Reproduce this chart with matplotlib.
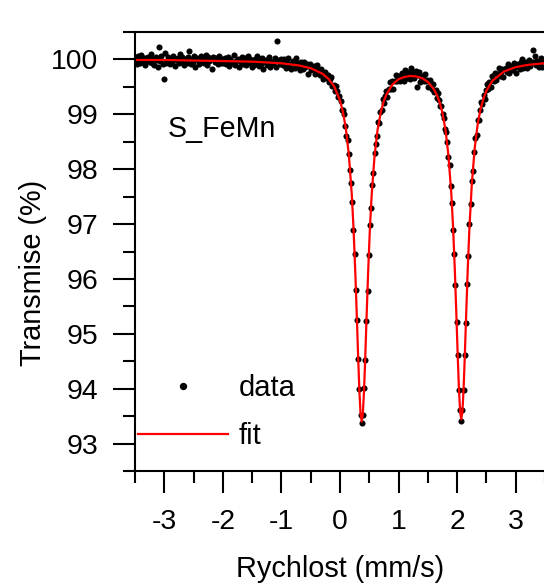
import numpy as np
import matplotlib
matplotlib.use('Agg')
from matplotlib import pyplot as plt

plt.rcParams['font.family'] = ['Liberation Sans', 'DejaVu Sans']
plt.rcParams['axes.unicode_minus'] = False

# namerena transmise (%) po kanalech
transmise = np.array([
    100.01, 99.92, 100.06, 99.99, 99.94, 100.08, 99.96, 100.03, 99.89, 100.02,
    99.98, 100.05, 99.95, 100.10, 99.93, 100.00, 99.90, 100.04, 99.99, 99.87,
    100.22, 99.97, 100.07, 99.92, 99.65, 100.12, 99.94, 99.98, 100.04, 99.91,
    100.00, 99.95, 100.06, 100.03, 99.88, 99.99, 100.02, 99.93, 100.09, 99.96,
    100.05, 99.90, 100.01, 99.98, 99.94, 100.04, 100.16, 99.92, 100.00, 99.95,
    100.07, 99.86, 100.03, 99.99, 99.91, 100.02, 100.06, 99.96, 99.93, 100.01,
    100.08, 99.89, 100.04, 99.97, 100.00, 99.83, 100.05, 100.02, 99.95, 100.03,
    99.92, 100.07, 99.98, 99.94, 100.01,
    99.94, 100.03, 99.91, 99.97, 100.05, 99.88, 100.00, 99.96, 99.93, 100.08,
    99.90, 99.98, 100.01, 99.86, 99.99, 99.95, 100.04, 99.92, 100.02, 99.89,
    99.97, 100.07, 99.93, 100.00, 99.87, 99.96, 99.89, 100.01, 99.94, 100.07,
    99.88, 99.97, 99.92, 100.02, 99.83, 99.99, 99.95, 99.90, 100.00, 100.04,
    99.87, 99.96, 99.91, 99.98, 100.03, 99.86, 100.33, 99.99, 99.92, 100.00,
    99.98, 99.90, 100.00, 99.85, 99.94, 100.02, 99.87, 99.92, 99.82, 99.97,
    99.94, 99.85, 100.02, 99.88, 99.93, 99.81, 99.96, 99.88, 99.82, 99.96,
    99.86, 99.91, 99.74, 99.88, 99.92, 99.80, 99.85, 99.88, 99.74, 99.81,
    99.89, 99.75, 99.72, 99.83, 99.77, 99.64, 99.76, 99.77, 99.66, 99.71,
    99.58, 99.65, 99.68, 99.52, 99.54, 99.42, 99.51, 99.42, 99.32, 99.33,
    99.25, 99.07, 99.07, 99.00, 98.79, 98.61, 98.54, 98.28, 97.98, 97.75,
    97.41, 96.90, 96.45, 95.79, 95.25, 94.54, 94.00, 93.52, 93.37,
    93.52, 94.02, 94.53, 95.24, 95.78, 96.44, 96.98, 97.30, 97.72, 97.93,
    98.30, 98.46, 98.60, 98.86, 98.85, 99.05, 99.08, 99.27, 99.20, 99.34,
    99.43, 99.32, 99.46, 99.58, 99.47, 99.60, 99.47, 99.61, 99.71, 99.60,
    99.67,
    99.70, 99.61, 99.75, 99.69, 99.61, 99.80, 99.72, 99.67, 99.78, 99.65,
    99.84, 99.71, 99.77, 99.67, 99.79, 99.50, 99.72, 99.77, 99.59, 99.68,
    99.70, 99.60, 99.74, 99.60, 99.63, 99.49, 99.62, 99.56, 99.46, 99.56,
    99.41, 99.45, 99.30, 99.38, 99.26, 99.15, 99.16, 99.00, 98.94, 98.74,
    98.68, 98.49, 98.23, 98.07, 97.70, 97.39, 96.90, 96.46, 95.89, 95.21,
    94.62, 93.97, 93.61, 93.42,
    93.62, 93.97, 94.61, 95.19, 95.91, 96.42, 97.01, 97.36, 97.78, 97.97,
    98.31, 98.57, 98.63, 98.89, 98.89, 99.07, 99.23, 99.19, 99.35, 99.27,
    99.45, 99.56, 99.47, 99.58, 99.49, 99.69, 99.63, 99.60, 99.75, 99.63,
    99.73, 99.84, 99.69, 99.77, 99.83, 99.68, 99.82, 99.85, 99.77, 99.91,
    99.75, 99.83, 99.88, 99.80, 99.93, 99.87, 99.76, 99.92, 99.90, 99.82,
    99.96, 100.01, 99.84, 99.91, 99.96, 99.84, 99.91, 99.99, 99.88, 99.96,
    100.17, 99.95, 100.07, 99.90, 99.98, 99.87, 99.96, 100.03, 99.86, 99.97,
])
# kanaly spektrometru jsou rovnomerne rozlozene v rychlosti
rychlost = np.linspace(-3.49, 3.47, len(transmise))

# fit (dublet), body odectene z cervene krivky
fit_rychlost = [-3.5, -3.0, -2.5, -2.0, -1.5, -1.0, -0.7, -0.5, -0.3, -0.2,
                -0.1, 0.0, 0.05, 0.10, 0.15, 0.20, 0.23, 0.26, 0.29, 0.31,
                0.33, 0.35, 0.37, 0.39, 0.41, 0.43, 0.45, 0.48, 0.51, 0.54,
                0.59, 0.64, 0.70, 0.75, 0.80, 0.90, 1.00, 1.10, 1.20, 1.30,
                1.40, 1.50, 1.60, 1.65, 1.70, 1.75, 1.80, 1.85, 1.90, 1.93,
                1.96, 1.99, 2.01, 2.03, 2.05, 2.07, 2.09, 2.11, 2.13, 2.15,
                2.18, 2.21, 2.25, 2.30, 2.35, 2.40, 2.45, 2.50, 2.60, 2.80,
                3.00, 3.20, 3.48]
fit_transmise = [99.99, 99.99, 99.98, 99.97, 99.96, 99.93, 99.89, 99.84, 99.74, 99.65,
                 99.51, 99.25, 99.04, 98.74, 98.27, 97.55, 96.93, 96.14, 95.21, 94.56,
                 93.97, 93.55, 93.40, 93.55, 93.97, 94.55, 95.20, 96.13, 96.92, 97.53,
                 98.25, 98.71, 99.06, 99.25, 99.38, 99.55, 99.64, 99.68, 99.70, 99.69,
                 99.66, 99.59, 99.46, 99.36, 99.22, 99.02, 98.72, 98.26, 97.55, 96.94,
                 96.16, 95.23, 94.58, 94.00, 93.59, 93.44, 93.59, 94.01, 94.59, 95.24,
                 96.17, 96.95, 97.73, 98.39, 98.82, 99.10, 99.29, 99.43, 99.61, 99.78,
                 99.86, 99.90, 99.93]

fig = plt.figure(figsize=(5.44, 5.87), dpi=100)
ax = fig.add_axes([0.2482, 0.1976, 0.7537, 0.7479])

ax.plot(rychlost, transmise, 'o', color='black', ms=4.4, mew=0, label='data')
ax.plot(fit_rychlost, fit_transmise, '-', color='red', lw=1.6, label='fit')

ax.set_xlim(-3.5, 3.5)
ax.set_ylim(92.5, 100.5)
ax.set_xticks(np.arange(-3, 4, 1))
ax.set_xticks(np.arange(-3.5, 3.6, 1), minor=True)
ax.set_yticks(np.arange(93, 101, 1))
ax.set_yticks(np.arange(92.5, 100.6, 1), minor=True)

ax.spines['right'].set_visible(False)
for s in ['left', 'bottom', 'top']:
    ax.spines[s].set_linewidth(1.5)
ax.tick_params(which='major', direction='out', length=15.5, width=1.5, labelsize=20.4)
ax.tick_params(which='minor', direction='out', length=8.5, width=1.5)
ax.tick_params(axis='x', which='major', pad=11.5)
ax.tick_params(axis='y', which='major', pad=11)

ax.set_xlabel('Rychlost (mm/s)', fontsize=20.8)
ax.set_ylabel('Transmise (%)', fontsize=20.8)
ax.xaxis.set_label_coords(0.5, -0.191)
ax.yaxis.set_label_coords(-0.215, 0.451)

ax.text(-2.94, 98.58, 'S_FeMn', fontsize=20.6, va='baseline')

ax.legend(loc='upper left', bbox_to_anchor=(0.0073, 0.221), frameon=False, fontsize=21,
          handlelength=3.1, handletextpad=0.34, labelspacing=0.7, borderpad=0,
          borderaxespad=0, numpoints=1, markerscale=1.2)

fig.savefig('out.png', dpi=100)
